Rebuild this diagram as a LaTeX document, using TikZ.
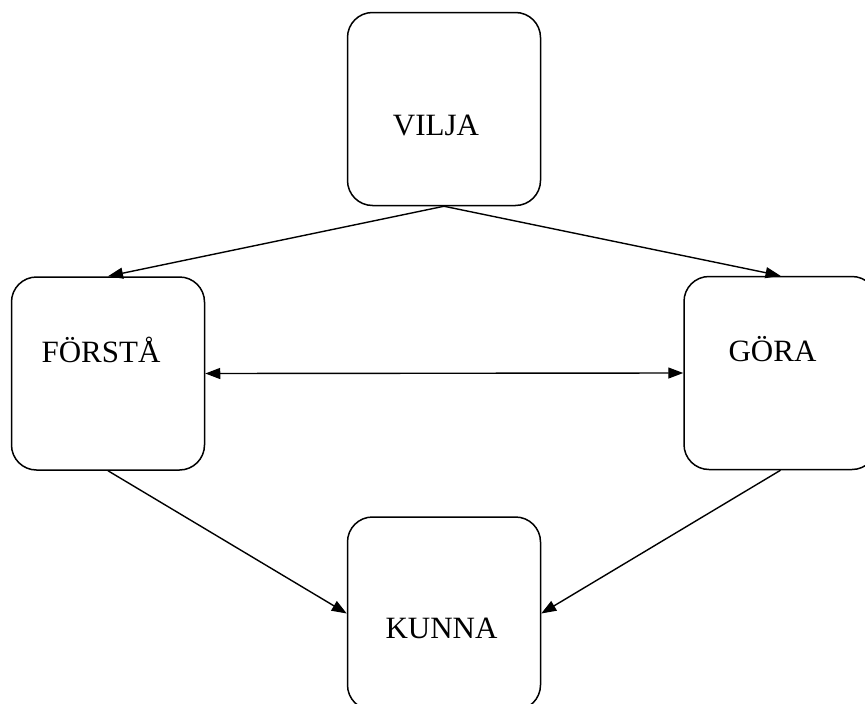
\documentclass[tikz,border=0pt]{standalone}
\usepackage{fontspec}
\setmainfont{Liberation Serif}
\usetikzlibrary{arrows.meta}
\begin{document}
\begin{tikzpicture}[x=1pt,y=-1pt,
  box/.style={draw, line width=1.5pt, rounded corners=25pt, minimum width=193pt, minimum height=193pt, inner sep=0pt},
  lab/.style={anchor=base, inner sep=0pt, font=\fontsize{31}{36}\selectfont},
  conn/.style={line width=1.4pt, -{Triangle[length=15pt,width=11pt]}},
  dconn/.style={line width=1.4pt, {Triangle[length=15pt,width=11pt]}-{Triangle[length=15pt,width=11pt]}}]
\useasboundingbox (0,0) rectangle (865,704);
\node[box] (vilja) at (444,109) {};
\node[box] (forsta) at (108,373.5) {};
\node[box] (gora) at (780.5,373) {};
\node[box] (kunna) at (444,613.5) {};
\node[lab] (tvilja) at (436,135) {VILJA};
\node[lab] (tforsta) at (101,362) {FÖRSTÅ};
\node[lab] (tgora) at (772.5,361) {GÖRA};
\node[lab] (tkunna) at (441.5,638) {KUNNA};
\draw[conn] (vilja.south) -- (forsta.north);
\draw[conn] (vilja.south) -- (gora.north);
\draw[dconn] (forsta.east) -- (gora.west);
\draw[conn] (forsta.south) -- (kunna.west);
\draw[conn] (gora.south) -- (kunna.east);
\end{tikzpicture}
\end{document}
